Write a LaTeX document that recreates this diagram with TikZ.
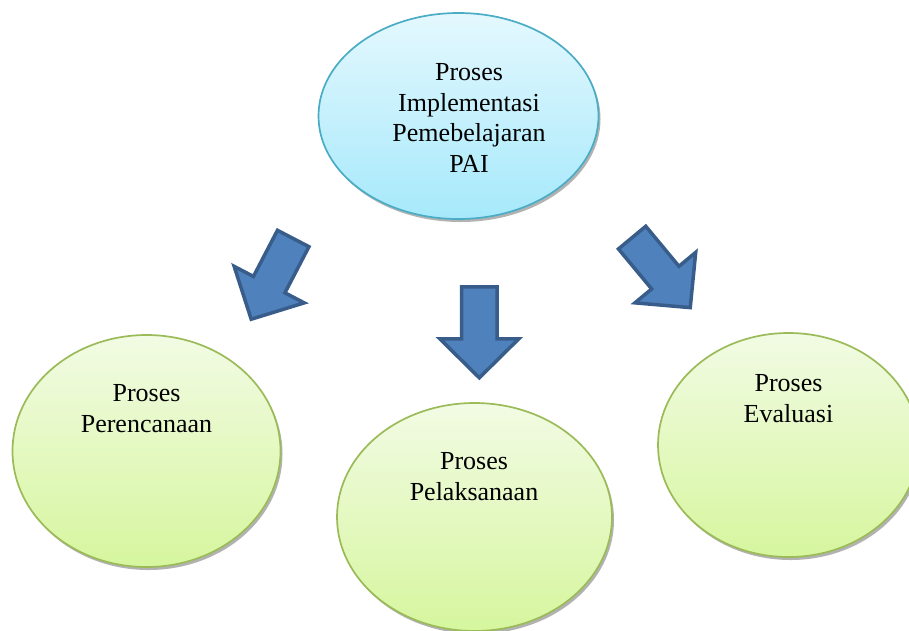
\documentclass[tikz,border=0pt]{standalone}
\usepackage{fontspec}
\setmainfont{Liberation Serif}
\usetikzlibrary{shapes.geometric,shadows}
\definecolor{bluetop}{RGB}{228,248,254}
\definecolor{bluebot}{RGB}{166,233,251}
\definecolor{blueline}{RGB}{75,172,198}
\definecolor{greentop}{RGB}{242,251,228}
\definecolor{greenbot}{RGB}{214,246,158}
\definecolor{greenline}{RGB}{155,187,89}
\definecolor{arrowfill}{RGB}{79,129,189}
\definecolor{arrowline}{RGB}{56,93,138}
\tikzset{
  ellbase/.style={ellipse, inner sep=0pt, line width=1.7pt,
    drop shadow={shadow xshift=2pt, shadow yshift=-3pt, fill=black!55, opacity=0.55}},
  blueell/.style={ellbase, draw=blueline, top color=bluetop, bottom color=bluebot},
  greenell/.style={ellbase, draw=greenline, top color=greentop, bottom color=greenbot},
  lbl/.style={align=center, inner sep=0pt, font=\fontsize{26}{30.5}\selectfont, text=black},
  blockarrow/.style={fill=arrowfill, draw=arrowline, line width=3.5pt, line join=miter}
}
\newcommand\myblockarrow[3]{%
  \draw[blockarrow, shift={(#1,#2)}, rotate=#3]
    (0,-17.75) -- (52,-17.75) -- (52,-39.5) -- (91,0) -- (52,39.5) -- (52,17.75) -- (0,17.75) -- cycle;}
\begin{document}
\begin{tikzpicture}[x=1pt,y=-1pt]
\useasboundingbox (0,0) rectangle (909,630);
\fill[white] (0,0) rectangle (909,630);

\node[blueell, minimum width=280pt, minimum height=206pt] (top) at (458.5,116) {};
\node[greenell, minimum width=268pt, minimum height=232pt] (plan) at (146.5,451) {};
\node[greenell, minimum width=275pt, minimum height=228pt] (exec) at (474.5,517) {};
\node[greenell, minimum width=261pt, minimum height=224pt] (eval) at (788.5,445) {};

% base anchor = baseline of the last line
\node[lbl, anchor=base] (toptext) at (469,172) {Proses\\Implementasi\\Pemebelajaran\\PAI};
\node[lbl, anchor=base] (plantext) at (146.5,432) {Proses\\Perencanaan};
\node[lbl, anchor=base] (exectext) at (474,500) {Proses\\Pelaksanaan};
\node[lbl, anchor=base] (evaltext) at (788.5,422) {Proses\\Evaluasi};

\myblockarrow{293.2}{238.5}{-117.5}
\myblockarrow{479.3}{286.8}{-90}
\myblockarrow{632.1}{237.6}{-50.3}
\end{tikzpicture}
\end{document}
